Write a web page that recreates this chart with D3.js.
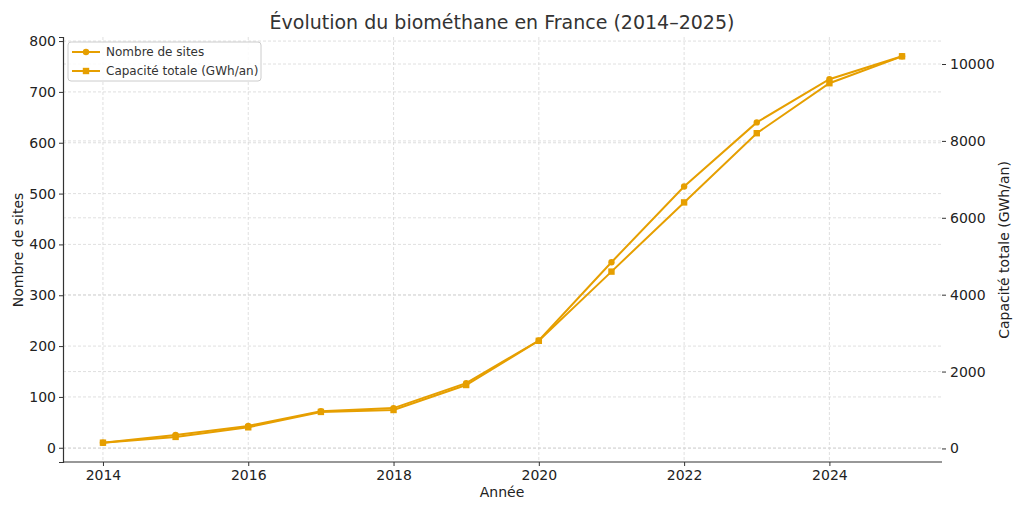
<!DOCTYPE html>
<html><head><meta charset="utf-8">
<script src="https://cdn.jsdelivr.net/npm/d3@7"></script>
<style>body{margin:0;background:#fff;font-family:"DejaVu Sans",sans-serif;}</style>
</head><body>
<svg id="c" width="1024" height="512"></svg>
<script>
const years = [2014,2015,2016,2017,2018,2019,2020,2021,2022,2023,2024,2025];
const sites = [10,25,43,72,78,127,211,365,514,640,725,770];
const capacity = [150,300,550,950,1000,1650,2800,4600,6400,8200,9500,10200];
const leftTicks = [0,100,200,300,400,500,600,700,800];
const rightTicks = [0,2000,4000,6000,8000,10000];
const xTicks = [2014,2016,2018,2020,2022,2024];
const color = "#E69F00";

const svg = d3.select("#c");
const L=63, R=942, T=37, B=462;
const x = d3.scaleLinear().domain([2013.45,2025.55]).range([L,R]);
const yL = d3.scaleLinear().domain([-28,808]).range([B,T]);
const yR = d3.scaleLinear().domain([-352.5,10702.5]).range([B,T]);

const g = svg.append("g");
// grids
const grid = g.append("g").attr("stroke","#cccccc").attr("stroke-width",0.8).attr("stroke-dasharray","3,2").attr("opacity",0.75);
xTicks.forEach(t=>grid.append("line").attr("x1",x(t)).attr("x2",x(t)).attr("y1",T).attr("y2",B));
leftTicks.forEach(t=>grid.append("line").attr("x1",L).attr("x2",R).attr("y1",yL(t)).attr("y2",yL(t)));
rightTicks.forEach(t=>grid.append("line").attr("x1",L).attr("x2",R).attr("y1",yR(t)).attr("y2",yR(t)));

// axes
const fontSize = "14px";
const ax = g.append("g").attr("transform",`translate(0,${B})`).call(d3.axisBottom(x).tickValues(xTicks).tickFormat(d3.format("d")).tickSizeOuter(0).tickSize(4).tickPadding(4));
const ayl = g.append("g").attr("transform",`translate(${L},0)`).call(d3.axisLeft(yL).tickValues(leftTicks).tickSizeOuter(0).tickSize(4).tickPadding(3));
const ayr = g.append("g").attr("transform",`translate(${R},0)`).call(d3.axisRight(yR).tickValues(rightTicks).tickFormat(d3.format("d")).tickSizeOuter(0).tickSize(4).tickPadding(4));
[ax,ayl,ayr].forEach(a=>{a.selectAll("text").attr("font-size",fontSize).attr("fill","#222").attr("font-family","DejaVu Sans");a.selectAll("line").attr("stroke","#333");a.select(".domain").attr("stroke","#333").attr("stroke-width",1.2);});
ayr.select(".domain").remove();
ax.select(".domain").attr("d",`M${L},0H${R}`);

// lines
const line1 = d3.line().x((d,i)=>x(years[i])).y(d=>yL(d));
const line2 = d3.line().x((d,i)=>x(years[i])).y(d=>yR(d));
g.append("path").datum(sites).attr("d",line1).attr("fill","none").attr("stroke",color).attr("stroke-width",2);
g.append("path").datum(capacity).attr("d",line2).attr("fill","none").attr("stroke",color).attr("stroke-width",2);
g.selectAll(".c").data(sites).enter().append("circle").attr("cx",(d,i)=>x(years[i])).attr("cy",d=>yL(d)).attr("r",3.2).attr("fill",color);
g.selectAll(".s").data(capacity).enter().append("rect").attr("x",(d,i)=>x(years[i])-3.2).attr("y",d=>yR(d)-3.2).attr("width",6.4).attr("height",6.4).attr("fill",color);

// labels
svg.append("text").attr("x",502).attr("y",29).attr("text-anchor","middle").attr("font-size","19px").attr("fill","#333").text("Évolution du biométhane en France (2014–2025)");
svg.append("text").attr("x",502).attr("y",497).attr("text-anchor","middle").attr("font-size","14px").attr("fill","#222").text("Année");
svg.append("text").attr("transform","translate(23,250) rotate(-90)").attr("text-anchor","middle").attr("font-size","14px").attr("fill","#222").text("Nombre de sites");
svg.append("text").attr("transform","translate(1009,250) rotate(-90)").attr("text-anchor","middle").attr("font-size","14px").attr("fill","#222").text("Capacité totale (GWh/an)");

// legend
const lg = svg.append("g");
lg.append("rect").attr("x",68).attr("y",42).attr("width",193).attr("height",39).attr("rx",3).attr("fill","#fff").attr("fill-opacity",0.85).attr("stroke","#ccc");
const items = [{label:"Nombre de sites",m:"c"},{label:"Capacité totale (GWh/an)",m:"s"}];
items.forEach((it,i)=>{
  const yy = 52 + i*19;
  lg.append("line").attr("x1",72).attr("x2",100).attr("y1",yy).attr("y2",yy).attr("stroke",color).attr("stroke-width",2);
  if(it.m==="c") lg.append("circle").attr("cx",86).attr("cy",yy).attr("r",3.2).attr("fill",color);
  else lg.append("rect").attr("x",82.8).attr("y",yy-3.2).attr("width",6.4).attr("height",6.4).attr("fill",color);
  lg.append("text").attr("x",106).attr("y",yy+4).attr("font-size","12px").attr("fill","#333").text(it.label);
});
</script>
</body></html>
